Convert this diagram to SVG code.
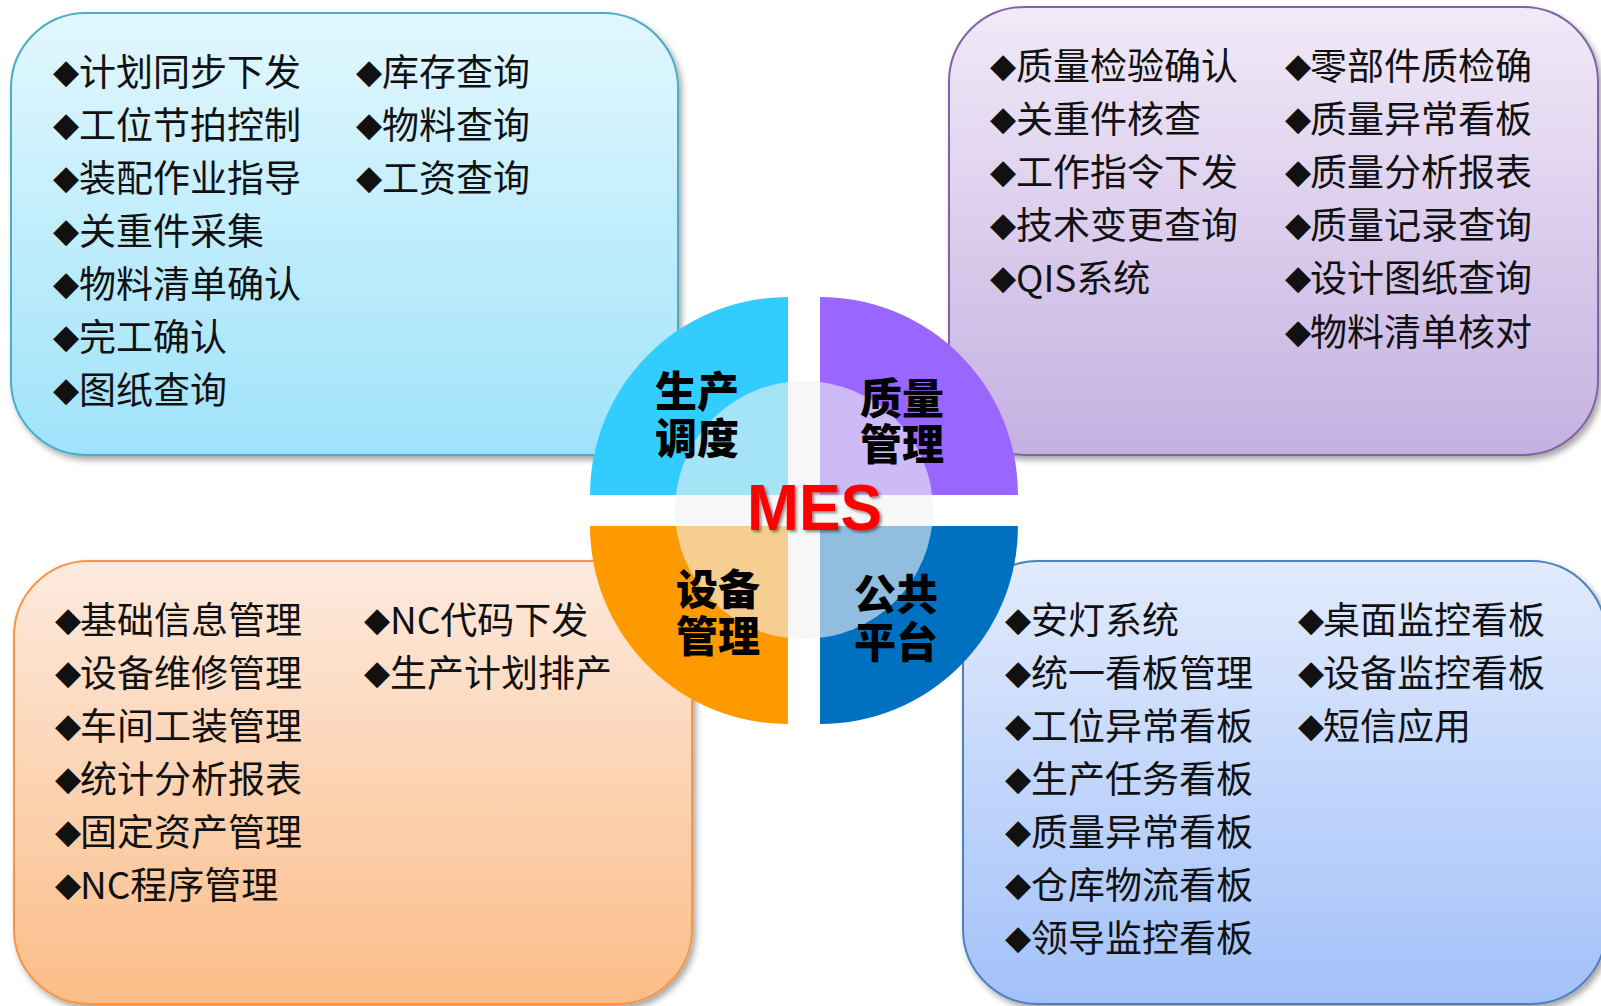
<svg xmlns="http://www.w3.org/2000/svg" width="1601" height="1006" viewBox="0 0 1601 1006">
<style>
.t{font-family:"Noto Sans CJK SC","Noto Sans",sans-serif;font-size:37px;fill:#111;}
.d{font-family:"DejaVu Sans",sans-serif;font-size:34px;}
.q{font-family:"Noto Sans CJK SC",sans-serif;font-size:42px;font-weight:900;fill:#000;text-anchor:middle;}
.box{stroke-width:2;}
</style>
<defs>
<linearGradient id="gTL" x1="0" y1="0" x2="0" y2="1"><stop offset="0" stop-color="#e2f7fe"/><stop offset="1" stop-color="#9fe3fa"/></linearGradient>
<linearGradient id="gTR" x1="0" y1="0" x2="0" y2="1"><stop offset="0" stop-color="#f1eaf8"/><stop offset="1" stop-color="#c5b0e1"/></linearGradient>
<linearGradient id="gBL" x1="0" y1="0" x2="0" y2="1"><stop offset="0" stop-color="#fdeade"/><stop offset="1" stop-color="#fbbd88"/></linearGradient>
<linearGradient id="gBR" x1="0" y1="0" x2="0" y2="1"><stop offset="0" stop-color="#e2ebfd"/><stop offset="1" stop-color="#a2c1f9"/></linearGradient>
<filter id="sh" x="-10%" y="-10%" width="120%" height="120%"><feDropShadow dx="3" dy="4" stdDeviation="3" flood-color="#000" flood-opacity="0.35"/></filter>
<filter id="tsh" x="-10%" y="-10%" width="120%" height="130%"><feDropShadow dx="2" dy="2" stdDeviation="1.5" flood-color="#000" flood-opacity="0.45"/></filter>
</defs>
<rect width="1601" height="1006" fill="#fff"/>

<g id="box-production">
<rect class="box" x="11" y="13" width="667" height="442" rx="75" fill="url(#gTL)" stroke="#4bacc6" filter="url(#sh)"/>
<text class="t" x="53" y="85.5"><tspan class="d" dy="-3">◆</tspan><tspan x="79" dy="3">计划同步下发</tspan></text>
<text class="t" x="53" y="138.6"><tspan class="d" dy="-3">◆</tspan><tspan x="79" dy="3">工位节拍控制</tspan></text>
<text class="t" x="53" y="191.7"><tspan class="d" dy="-3">◆</tspan><tspan x="79" dy="3">装配作业指导</tspan></text>
<text class="t" x="53" y="244.8"><tspan class="d" dy="-3">◆</tspan><tspan x="79" dy="3">关重件采集</tspan></text>
<text class="t" x="53" y="297.9"><tspan class="d" dy="-3">◆</tspan><tspan x="79" dy="3">物料清单确认</tspan></text>
<text class="t" x="53" y="351"><tspan class="d" dy="-3">◆</tspan><tspan x="79" dy="3">完工确认</tspan></text>
<text class="t" x="53" y="404.1"><tspan class="d" dy="-3">◆</tspan><tspan x="79" dy="3">图纸查询</tspan></text>
<text class="t" x="356" y="85.5"><tspan class="d" dy="-3">◆</tspan><tspan x="382" dy="3">库存查询</tspan></text>
<text class="t" x="356" y="138.6"><tspan class="d" dy="-3">◆</tspan><tspan x="382" dy="3">物料查询</tspan></text>
<text class="t" x="356" y="191.7"><tspan class="d" dy="-3">◆</tspan><tspan x="382" dy="3">工资查询</tspan></text>
</g>

<g id="box-quality">
<rect class="box" x="949" y="7" width="649" height="448" rx="75" fill="url(#gTR)" stroke="#8064a2" filter="url(#sh)"/>
<text class="t" x="990" y="80"><tspan class="d" dy="-3">◆</tspan><tspan x="1016" dy="3">质量检验确认</tspan></text>
<text class="t" x="990" y="133.1"><tspan class="d" dy="-3">◆</tspan><tspan x="1016" dy="3">关重件核查</tspan></text>
<text class="t" x="990" y="186.2"><tspan class="d" dy="-3">◆</tspan><tspan x="1016" dy="3">工作指令下发</tspan></text>
<text class="t" x="990" y="239.3"><tspan class="d" dy="-3">◆</tspan><tspan x="1016" dy="3">技术变更查询</tspan></text>
<text class="t" x="990" y="292.4"><tspan class="d" dy="-3">◆</tspan><tspan x="1016" dy="3">QIS系统</tspan></text>
<text class="t" x="1285" y="80"><tspan class="d" dy="-3">◆</tspan><tspan x="1310" dy="3">零部件质检确</tspan></text>
<text class="t" x="1285" y="133.1"><tspan class="d" dy="-3">◆</tspan><tspan x="1310" dy="3">质量异常看板</tspan></text>
<text class="t" x="1285" y="186.2"><tspan class="d" dy="-3">◆</tspan><tspan x="1310" dy="3">质量分析报表</tspan></text>
<text class="t" x="1285" y="239.3"><tspan class="d" dy="-3">◆</tspan><tspan x="1310" dy="3">质量记录查询</tspan></text>
<text class="t" x="1285" y="292.4"><tspan class="d" dy="-3">◆</tspan><tspan x="1310" dy="3">设计图纸查询</tspan></text>
<text class="t" x="1285" y="345.5"><tspan class="d" dy="-3">◆</tspan><tspan x="1310" dy="3">物料清单核对</tspan></text>
</g>

<g id="box-equipment">
<rect class="box" x="14" y="561" width="678" height="443" rx="75" fill="url(#gBL)" stroke="#f79646" filter="url(#sh)"/>
<text class="t" x="55" y="633.5"><tspan class="d" dy="-3">◆</tspan><tspan x="80" dy="3">基础信息管理</tspan></text>
<text class="t" x="55" y="686.6"><tspan class="d" dy="-3">◆</tspan><tspan x="80" dy="3">设备维修管理</tspan></text>
<text class="t" x="55" y="739.7"><tspan class="d" dy="-3">◆</tspan><tspan x="80" dy="3">车间工装管理</tspan></text>
<text class="t" x="55" y="792.8"><tspan class="d" dy="-3">◆</tspan><tspan x="80" dy="3">统计分析报表</tspan></text>
<text class="t" x="55" y="845.9"><tspan class="d" dy="-3">◆</tspan><tspan x="80" dy="3">固定资产管理</tspan></text>
<text class="t" x="55" y="899"><tspan class="d" dy="-3">◆</tspan><tspan x="80" dy="3">NC程序管理</tspan></text>
<text class="t" x="364" y="633.5"><tspan class="d" dy="-3">◆</tspan><tspan x="390" dy="3">NC代码下发</tspan></text>
<text class="t" x="364" y="686.6"><tspan class="d" dy="-3">◆</tspan><tspan x="390" dy="3">生产计划排产</tspan></text>
</g>

<g id="box-platform">
<rect class="box" x="963" y="561" width="643" height="443" rx="75" fill="url(#gBR)" stroke="#4f81bd" filter="url(#sh)"/>
<text class="t" x="1005" y="633.5"><tspan class="d" dy="-3">◆</tspan><tspan x="1031" dy="3">安灯系统</tspan></text>
<text class="t" x="1005" y="686.6"><tspan class="d" dy="-3">◆</tspan><tspan x="1031" dy="3">统一看板管理</tspan></text>
<text class="t" x="1005" y="739.7"><tspan class="d" dy="-3">◆</tspan><tspan x="1031" dy="3">工位异常看板</tspan></text>
<text class="t" x="1005" y="792.8"><tspan class="d" dy="-3">◆</tspan><tspan x="1031" dy="3">生产任务看板</tspan></text>
<text class="t" x="1005" y="845.9"><tspan class="d" dy="-3">◆</tspan><tspan x="1031" dy="3">质量异常看板</tspan></text>
<text class="t" x="1005" y="899"><tspan class="d" dy="-3">◆</tspan><tspan x="1031" dy="3">仓库物流看板</tspan></text>
<text class="t" x="1005" y="952.1"><tspan class="d" dy="-3">◆</tspan><tspan x="1031" dy="3">领导监控看板</tspan></text>
<text class="t" x="1298" y="633.5"><tspan class="d" dy="-3">◆</tspan><tspan x="1323" dy="3">桌面监控看板</tspan></text>
<text class="t" x="1298" y="686.6"><tspan class="d" dy="-3">◆</tspan><tspan x="1323" dy="3">设备监控看板</tspan></text>
<text class="t" x="1298" y="739.7"><tspan class="d" dy="-3">◆</tspan><tspan x="1323" dy="3">短信应用</tspan></text>
</g>

<g id="hub">
<path d="M788 495 L590 495 A198 198 0 0 1 788 297 Z" fill="#33ccff"/>
<path d="M820 495 L820 297 A198 198 0 0 1 1018 495 Z" fill="#9966ff"/>
<path d="M788 526 L788 724 A198 198 0 0 1 590 526 Z" fill="#ff9900"/>
<path d="M820 526 L1018 526 A198 198 0 0 1 820 724 Z" fill="#0070c0"/>
<circle cx="804" cy="510" r="129" fill="#f2f2f2" fill-opacity="0.6"/>
<text class="q"><tspan x="697" y="407">生产</tspan><tspan x="697" dy="47">调度</tspan></text>
<text class="q"><tspan x="902" y="414">质量</tspan><tspan x="902" dy="46">管理</tspan></text>
<text class="q"><tspan x="718" y="605">设备</tspan><tspan x="718" dy="47">管理</tspan></text>
<text class="q"><tspan x="896" y="610">公共</tspan><tspan x="896" dy="48">平台</tspan></text>
<text x="747" y="530" font-family="Liberation Sans, Arial, sans-serif" font-weight="bold" font-size="64" fill="#ff0000" textLength="135" lengthAdjust="spacingAndGlyphs" filter="url(#tsh)">MES</text>
</g>
<g id="connectors"/>
</svg>
